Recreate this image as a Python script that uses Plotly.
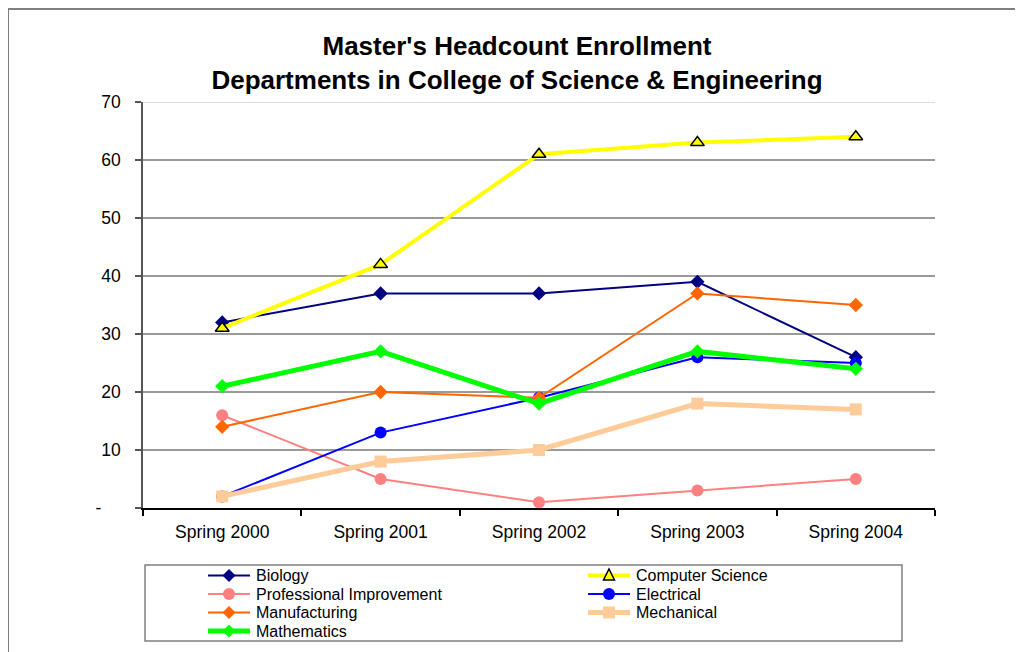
import plotly.graph_objects as go

# ---- data ----
categories = ["Spring 2000", "Spring 2001", "Spring 2002", "Spring 2003", "Spring 2004"]
series_names = ["Biology", "Computer Science", "Professional Improvement", "Electrical",
                "Manufacturing", "Mechanical", "Mathematics"]
biology = [32, 37, 37, 39, 26]
computer_science = [31, 42, 61, 63, 64]
professional_improvement = [16, 5, 1, 3, 5]
electrical = [2, 13, 19, 26, 25]
manufacturing = [14, 20, 19, 37, 35]
mechanical = [2, 8, 10, 18, 17]
mathematics = [21, 27, 18, 27, 24]
y_tick_values = [0, 10, 20, 30, 40, 50, 60, 70]
y_tick_labels = ["-\u00a0\u00a0\u00a0\u00a0", "10", "20", "30", "40", "50", "60", "70"]

series_values = [biology, computer_science, professional_improvement, electrical,
                 manufacturing, mechanical, mathematics]

# ---- styles ----
styles = [
    dict(color="#000080", width=2, symbol="diamond", msize=11, mcolor="#000080", mline=None),
    dict(color="#FFFF00", width=4, symbol="triangle-up", msize=12, mcolor="#FFFF00", mline="#000000"),
    dict(color="#FF8080", width=2, symbol="circle", msize=12, mcolor="#FF8080", mline=None),
    dict(color="#0000FF", width=2, symbol="circle", msize=12, mcolor="#0000FF", mline=None),
    dict(color="#FF6600", width=2, symbol="diamond", msize=11, mcolor="#FF6600", mline=None),
    dict(color="#FFCC99", width=5, symbol="square", msize=12, mcolor="#FFCC99", mline=None),
    dict(color="#00FF00", width=5, symbol="diamond", msize=11, mcolor="#00FF00", mline=None),
]

OFF = 8  # page body margin
W, H = 1023, 652
L, T = 143 - OFF, 102 - OFF
PW, PH = 792, 406
R, B = W - L - PW, H - T - PH
FONT = "Arial, Liberation Sans, sans-serif"
FS = 17.5
LEG_FS = 16


def px(sx):
    return (sx - OFF - L) / PW


def py(sy):
    return (T + PH - (sy - OFF)) / PH


fig = go.Figure()
for name, vals, st in zip(series_names, series_values, styles):
    marker = dict(symbol=st["symbol"], size=st["msize"], color=st["mcolor"])
    if st["mline"]:
        marker["line"] = dict(color=st["mline"], width=1.5)
    else:
        marker["line"] = dict(width=0)
    fig.add_trace(go.Scatter(
        x=categories, y=vals, name=name, mode="lines+markers",
        line=dict(color=st["color"], width=st["width"]),
        marker=marker, showlegend=False,
    ))

shapes = []
annotations = []

# outer chart border
shapes.append(dict(type="rect", xref="paper", yref="paper",
                   x0=px(8), x1=px(1060), y0=py(9), y1=py(700),
                   line=dict(color="#808080", width=2), layer="below"))
# light top line at 70
shapes.append(dict(type="line", xref="paper", yref="y", x0=0, x1=1, y0=70, y1=70,
                   line=dict(color="#DDDDDD", width=2), layer="above"))

# legend box
shapes.append(dict(type="rect", xref="paper", yref="paper",
                   x0=px(145), x1=px(902), y0=py(565), y1=py(641),
                   line=dict(color="#808080", width=1.5)))

# manual legend (two columns, row-major)
col_x = [208, 588]
row_y0, row_dy = 575.5, 18.5
for i, (name, st) in enumerate(zip(series_names, styles)):
    r, c = divmod(i, 2)
    x0 = col_x[c]
    yc = row_y0 + r * row_dy
    shapes.append(dict(type="line", xref="paper", yref="paper",
                       x0=px(x0), x1=px(x0 + 42), y0=py(yc), y1=py(yc),
                       line=dict(color=st["color"], width=st["width"])))
    xa, ya = px(x0 + 21), py(yc)
    s = 6
    if st["symbol"] == "circle":
        shapes.append(dict(type="circle", xref="paper", yref="paper", xsizemode="pixel",
                           ysizemode="pixel", xanchor=xa, yanchor=ya,
                           x0=-s, x1=s, y0=-s, y1=s, fillcolor=st["mcolor"], line=dict(width=0)))
    elif st["symbol"] == "square":
        shapes.append(dict(type="rect", xref="paper", yref="paper", xsizemode="pixel",
                           ysizemode="pixel", xanchor=xa, yanchor=ya,
                           x0=-s, x1=s, y0=-s, y1=s, fillcolor=st["mcolor"], line=dict(width=0)))
    elif st["symbol"] == "diamond":
        shapes.append(dict(type="path", xref="paper", yref="paper", xsizemode="pixel",
                           ysizemode="pixel", xanchor=xa, yanchor=ya,
                           path="M 0 6.5 L 6.5 0 L 0 -6.5 L -6.5 0 Z",
                           fillcolor=st["mcolor"], line=dict(width=0)))
    elif st["symbol"] == "triangle-up":
        shapes.append(dict(type="path", xref="paper", yref="paper", xsizemode="pixel",
                           ysizemode="pixel", xanchor=xa, yanchor=ya,
                           path="M 0 6.5 L 5.5 -4.5 L -5.5 -4.5 Z",
                           fillcolor=st["mcolor"], line=dict(color="#000000", width=1.5)))
    annotations.append(dict(xref="paper", yref="paper", x=px(x0 + 48), y=py(yc),
                            xanchor="left", yanchor="middle", text=name, showarrow=False,
                            borderpad=0, borderwidth=0,
                            font=dict(family=FONT, size=LEG_FS, color="#000000")))

fig.update_layout(
    width=W, height=H,
    margin=dict(l=L, r=R, t=T, b=B, autoexpand=False),
    paper_bgcolor="#FFFFFF", plot_bgcolor="#FFFFFF",
    title=dict(text="Master's Headcount Enrollment<br>Departments in College of Science & Engineering",
               x=(517 - OFF) / W, xref="container", xanchor="center",
               y=1 - 47 / H, yref="container", yanchor="middle",
               font=dict(family=FONT, size=26, color="#000000", weight="bold")),
    font=dict(family=FONT, size=FS, color="#000000"),
    xaxis=dict(type="category", range=[-0.5, len(categories) - 0.5],
               tickson="boundaries", ticks="outside", ticklen=6,
               tickcolor="#000000", tickwidth=1.5, showline=True, linecolor="#000000",
               linewidth=1.5, showgrid=False, zeroline=False,
               tickfont=dict(family=FONT, size=FS, color="#000000"), ticklabelstandoff=7),
    yaxis=dict(range=[0, 70], tickmode="array", tickvals=y_tick_values, ticktext=y_tick_labels,
               ticks="outside", ticklen=6, tickcolor="#555555", tickwidth=1.5,
               showline=True, linecolor="#555555", linewidth=1.5,
               showgrid=True, gridcolor="#9A9A9A", gridwidth=1.5, zeroline=False,
               tickfont=dict(family=FONT, size=FS, color="#000000"), ticklabelstandoff=11),
    shapes=shapes,
    annotations=annotations,
    showlegend=False,
)

fig.write_html("out.html")
